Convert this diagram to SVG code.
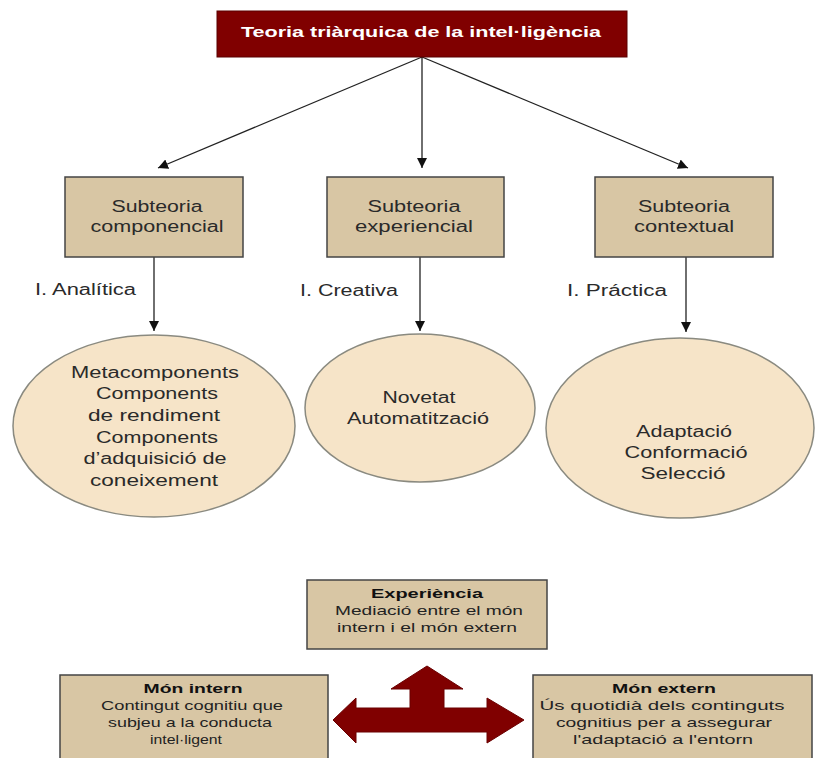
<svg xmlns="http://www.w3.org/2000/svg" width="816" height="758" viewBox="0 0 816 758">
<defs>
<marker id="ah" viewBox="0 0 10 10" refX="10" refY="5" markerWidth="10" markerHeight="10" markerUnits="userSpaceOnUse" orient="auto">
<path d="M0,0 L10,5 L0,10 Z" fill="#111"/>
</marker>
<style>
.bg{fill:#fff}
.title{fill:#800000;stroke:#5a0000;stroke-width:1}
.tt{font-family:"Liberation Sans",Arial,sans-serif;font-weight:bold;font-size:14px;fill:#fff;text-anchor:middle}
.box{fill:#d8c6a4;stroke:#444;stroke-width:1.5}
.ell{fill:#f6e4c8;stroke:#8a8a80;stroke-width:1.5}
.t{font-family:"Liberation Sans",Arial,sans-serif;font-size:16px;fill:#2a2a2a;text-anchor:middle}
.lb{font-family:"Liberation Sans",Arial,sans-serif;font-size:16px;fill:#2a2a2a}
.bt{font-family:"Liberation Sans",Arial,sans-serif;font-size:13.5px;fill:#222;text-anchor:middle}
.bb{font-family:"Liberation Sans",Arial,sans-serif;font-size:13.5px;font-weight:bold;fill:#111;text-anchor:middle}
.ln{stroke:#222;stroke-width:1.3;fill:none;marker-end:url(#ah)}
.big{fill:#800000;stroke:#6a0000;stroke-width:1}
</style>
</defs>
<rect class="bg" x="0" y="0" width="816" height="758"/>

<g id="connectors">
<line class="ln" x1="422" y1="57" x2="158" y2="168"/>
<line class="ln" x1="422" y1="57" x2="422" y2="168"/>
<line class="ln" x1="422" y1="57" x2="688" y2="168"/>
<line class="ln" x1="154" y1="257" x2="154" y2="331"/>
<line class="ln" x1="420" y1="257" x2="420" y2="331"/>
<line class="ln" x1="686" y1="257" x2="686" y2="332"/>
<text class="lb" x="35" y="295" textLength="101" lengthAdjust="spacingAndGlyphs">I. Analítica</text>
<text class="lb" x="300" y="296" textLength="98" lengthAdjust="spacingAndGlyphs">I. Creativa</text>
<text class="lb" x="567" y="296" textLength="100" lengthAdjust="spacingAndGlyphs">I. Práctica</text>
</g>

<g id="title">
<rect class="title" x="217" y="11" width="410" height="46"/>
<text class="tt" x="421" y="37" textLength="360" lengthAdjust="spacingAndGlyphs">Teoria triàrquica de la intel·ligència</text>
</g>

<g id="sub-componencial">
<rect class="box" x="65" y="177" width="178" height="80"/>
<text class="t" x="157" y="212" textLength="91" lengthAdjust="spacingAndGlyphs">Subteoria</text>
<text class="t" x="157" y="232" textLength="133" lengthAdjust="spacingAndGlyphs">componencial</text>
</g>
<g id="sub-experiencial">
<rect class="box" x="327" y="177" width="177" height="80"/>
<text class="t" x="414" y="212" textLength="93" lengthAdjust="spacingAndGlyphs">Subteoria</text>
<text class="t" x="414" y="232" textLength="118" lengthAdjust="spacingAndGlyphs">experiencial</text>
</g>
<g id="sub-contextual">
<rect class="box" x="595" y="177" width="178" height="80"/>
<text class="t" x="684" y="212" textLength="92" lengthAdjust="spacingAndGlyphs">Subteoria</text>
<text class="t" x="684" y="232" textLength="100" lengthAdjust="spacingAndGlyphs">contextual</text>
</g>

<g id="analitica">
<ellipse class="ell" cx="154" cy="426" rx="141" ry="91"/>
<text class="t" x="155" y="378" textLength="168" lengthAdjust="spacingAndGlyphs">Metacomponents</text>
<text class="t" x="157" y="399" textLength="122" lengthAdjust="spacingAndGlyphs">Components</text>
<text class="t" x="154" y="421" textLength="132" lengthAdjust="spacingAndGlyphs">de rendiment</text>
<text class="t" x="157" y="443" textLength="122" lengthAdjust="spacingAndGlyphs">Components</text>
<text class="t" x="155" y="464" textLength="143" lengthAdjust="spacingAndGlyphs">d’adquisició de</text>
<text class="t" x="154" y="486" textLength="128" lengthAdjust="spacingAndGlyphs">coneixement</text>
</g>
<g id="creativa">
<ellipse class="ell" cx="420" cy="408" rx="115" ry="74"/>
<text class="t" x="419" y="403" textLength="73" lengthAdjust="spacingAndGlyphs">Novetat</text>
<text class="t" x="418" y="424" textLength="142" lengthAdjust="spacingAndGlyphs">Automatització</text>
</g>
<g id="practica">
<ellipse class="ell" cx="680" cy="428" rx="134" ry="90"/>
<text class="t" x="684" y="437" textLength="96" lengthAdjust="spacingAndGlyphs">Adaptació</text>
<text class="t" x="686" y="458" textLength="123" lengthAdjust="spacingAndGlyphs">Conformació</text>
<text class="t" x="683" y="479" textLength="85" lengthAdjust="spacingAndGlyphs">Selecció</text>
</g>

<g id="experiencia">
<rect class="box" x="307" y="580" width="240" height="69"/>
<text class="bb" x="427" y="598" textLength="112" lengthAdjust="spacingAndGlyphs">Experiència</text>
<text class="bt" x="429" y="615" textLength="188" lengthAdjust="spacingAndGlyphs">Mediació entre el món</text>
<text class="bt" x="427" y="632" textLength="180" lengthAdjust="spacingAndGlyphs">intern i el món extern</text>
</g>

<g id="mon-intern">
<rect class="box" x="60" y="675" width="268" height="90"/>
<text class="bb" x="193" y="693" textLength="99" lengthAdjust="spacingAndGlyphs">Món intern</text>
<text class="bt" x="192" y="710" textLength="182" lengthAdjust="spacingAndGlyphs">Contingut cognitiu que</text>
<text class="bt" x="190" y="727" textLength="164" lengthAdjust="spacingAndGlyphs">subjeu a la conducta</text>
<text class="bt" x="186" y="744" textLength="72" lengthAdjust="spacingAndGlyphs">intel·ligent</text>
</g>

<g id="mon-extern">
<rect class="box" x="533" y="675" width="279" height="90"/>
<text class="bb" x="664" y="693" textLength="104" lengthAdjust="spacingAndGlyphs">Món extern</text>
<text class="bt" x="662" y="710" textLength="245" lengthAdjust="spacingAndGlyphs">Ús quotidià dels continguts</text>
<text class="bt" x="664" y="727" textLength="216" lengthAdjust="spacingAndGlyphs">cognitius per a assegurar</text>
<text class="bt" x="663" y="744" textLength="180" lengthAdjust="spacingAndGlyphs">l'adaptació a l'entorn</text>
</g>

<g id="arrow-tri">
<polygon class="big" points="427,666 463,689 444,689 444,708 487,708 487,698 524,720 487,743 487,732 356,732 356,743 333,720 356,698 356,708 410,708 410,689 391,689"/>
</g>
</svg>
